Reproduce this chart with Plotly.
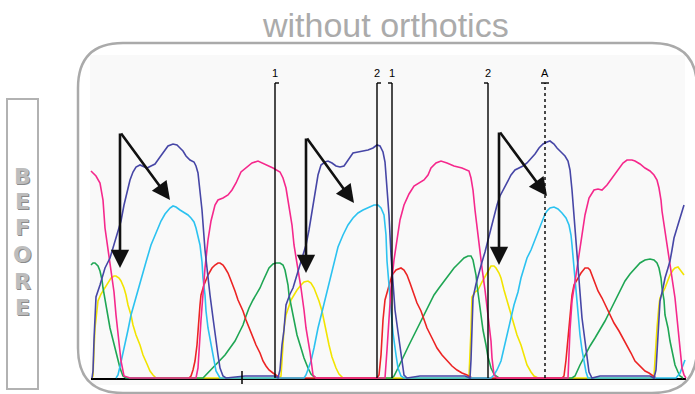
import plotly.graph_objects as go

# ---------------- data (scan position, signal amplitude) ----------------
pink_x = [91, 96, 100, 103, 105, 108, 111, 114, 116, 119, 121, 124, 130,
          196, 198, 201, 205, 208, 211, 215, 218, 223, 228, 232, 236, 241, 246, 252, 258, 265, 273, 280, 283, 286, 289, 292, 294, 298, 301, 304, 306, 310, 313, 316,
          385, 387, 389, 391, 394, 397, 400, 404, 409, 414, 419, 424, 428, 431, 436, 441, 447, 454, 462, 469, 471, 473, 475, 477, 480, 482, 485, 487, 489, 491, 492, 494, 497,
          568, 570, 572, 576, 579, 582, 585, 589, 594, 598, 602, 607, 612, 616, 619, 623, 627, 632, 635, 640, 645, 650, 654, 657, 659, 661, 662, 665, 667, 670, 672, 675, 677, 679, 680, 682, 684, 686]
pink_y = [207, 202, 195, 178, 150, 130, 110, 86, 63, 38, 17, 2, 0,
          0, 10, 58, 110, 138, 157, 173, 178, 180, 183, 188, 195, 206, 210, 215, 217, 214, 210, 206, 200, 190, 173, 153, 133, 110, 90, 68, 50, 26, 3, 0,
          0, 28, 63, 90, 118, 140, 158, 173, 184, 192, 195, 198, 203, 210, 215, 217, 215, 212, 210, 207, 200, 188, 168, 150, 128, 110, 88, 70, 53, 37, 20, 3, 0,
          0, 48, 77, 103, 123, 143, 163, 180, 188, 189, 188, 193, 200, 206, 210, 215, 218, 218, 217, 214, 210, 207, 203, 198, 190, 178, 167, 148, 133, 116, 100, 80, 60, 40, 23, 10, 3, 0]

blue_x = [92, 93, 94, 96, 100, 105, 110, 115, 118, 121, 124, 127, 130, 133, 136, 140, 143, 147, 151, 155, 160, 164, 168, 173, 177, 180, 183, 186, 190, 194, 196, 198, 200, 202, 205, 208, 210, 213, 215, 218, 220, 223, 226,
          245, 275,
          278, 280, 282, 284, 286, 290, 293, 296, 299, 303, 306, 309, 311, 314, 316, 318, 321, 325, 328, 332, 336, 340, 344, 348, 353, 358, 363, 368, 373, 377, 380, 383, 385, 387, 389, 391, 393, 395, 398, 401, 404, 407,
          420, 465,
          470, 471, 472, 473, 476, 479, 482, 485, 488, 491, 494, 497, 500, 504, 508, 511, 515, 519, 523, 527, 531, 535, 539, 543, 547, 550, 554, 557, 561, 565, 568, 570, 572, 574, 576, 578, 580, 582, 585, 587, 589, 592,
          600, 650,
          654, 656, 657, 659, 660, 663, 665, 668, 670, 672, 674, 677, 679, 682, 684]
blue_y = [0, 7, 38, 81, 93, 110, 120, 137, 146, 157, 173, 186, 198, 206, 211, 213, 212, 210, 212, 214, 221, 226, 232, 234, 233, 230, 227, 222, 218, 216, 212, 205, 188, 168, 128, 98, 83, 60, 43, 23, 10, 2, 0,
          2, 2,
          0, 8, 33, 48, 73, 84, 90, 100, 110, 122, 133, 148, 160, 178, 193, 203, 213, 216, 217, 215, 212, 211, 212, 218, 225, 226, 227, 228, 230, 233, 232, 226, 216, 193, 163, 123, 93, 68, 46, 23, 3, 0,
          2, 2,
          0, 18, 48, 80, 94, 106, 116, 126, 138, 150, 163, 173, 182, 190, 198, 203, 208, 210, 212, 215, 219, 224, 230, 234, 236, 237, 234, 230, 226, 222, 217, 208, 188, 163, 133, 108, 83, 60, 37, 18, 6, 0,
          2, 2,
          0, 8, 23, 58, 77, 90, 100, 110, 117, 128, 140, 150, 157, 166, 173]

cyan_x = [116, 118, 121, 125, 128, 131, 136, 141, 146, 151, 156, 161, 165, 170, 173, 176, 180, 185, 188, 191, 194, 196, 198, 200, 202, 203, 205, 206, 208, 211, 213, 216, 220,
          304, 306, 308, 311, 314, 318, 322, 326, 330, 334, 338, 343, 348, 353, 358, 363, 368, 374, 378, 381, 384, 386, 387, 389, 391, 393, 396, 398, 401, 404,
          491, 494, 497, 501, 504, 507, 511, 514, 518, 521, 524, 527, 531, 534, 537, 540, 542, 545, 547, 550, 554, 558, 562, 566, 569, 571, 572, 574, 576, 577, 579, 580, 582, 584, 586, 588,
          676, 680, 682, 685]
cyan_y = [0, 3, 16, 33, 48, 63, 81, 100, 116, 133, 146, 157, 164, 170, 172, 171, 168, 165, 163, 160, 156, 150, 142, 133, 116, 100, 83, 67, 50, 33, 20, 7, 0,
          0, 3, 8, 17, 30, 50, 66, 83, 100, 117, 131, 143, 153, 160, 165, 168, 170, 173, 173, 170, 163, 143, 117, 93, 67, 45, 23, 10, 2, 0,
          0, 3, 8, 17, 30, 43, 58, 73, 86, 100, 110, 120, 128, 136, 143, 152, 157, 164, 167, 170, 171, 169, 165, 160, 153, 143, 133, 110, 88, 77, 58, 43, 28, 17, 6, 0,
          0, 5, 10, 18]

green_x = [91, 93, 95, 98, 100, 102, 103, 105, 106, 108, 110, 113, 115, 118, 120, 123, 126,
           203, 205, 210, 215, 220, 225, 230, 235, 240, 243, 246, 249, 253, 256, 260, 263, 266, 269, 273, 276, 280, 283, 285, 286, 288, 289, 292, 294, 297, 301, 304, 308, 311, 313, 316,
           392, 394, 399, 404, 409, 414, 419, 424, 429, 434, 439, 444, 449, 454, 459, 464, 468, 471, 473, 474, 476, 477, 479, 481, 483, 486, 488, 491, 494, 496, 499,
           572, 575, 580, 585, 590, 595, 600, 605, 610, 615, 620, 625, 630, 635, 640, 645, 650, 654, 657, 659, 661, 662, 664, 665, 668, 670, 673, 675, 678, 680, 683]
green_y = [113, 115, 115, 112, 107, 98, 90, 78, 70, 60, 50, 38, 30, 18, 10, 2, 0,
           0, 2, 8, 13, 18, 23, 30, 37, 47, 53, 62, 70, 78, 83, 90, 97, 103, 110, 114, 115, 115, 113, 108, 103, 93, 83, 68, 57, 43, 30, 20, 10, 4, 2, 0,
           0, 2, 12, 23, 33, 43, 53, 63, 73, 83, 90, 97, 103, 110, 115, 120, 122, 122, 118, 113, 103, 93, 78, 63, 48, 33, 21, 10, 4, 2, 0,
           0, 2, 13, 23, 32, 40, 48, 57, 67, 77, 87, 97, 104, 110, 115, 118, 119, 118, 115, 110, 100, 90, 78, 63, 50, 37, 23, 13, 6, 2, 0]

red_x = [189, 191, 193, 195, 197, 198, 200, 201, 204, 208, 212, 215, 218, 220, 223, 225, 228, 230, 233, 235, 238, 241, 243, 246, 249, 253, 256, 260, 263, 266, 269, 273, 276, 280,
         377, 379, 381, 383, 385, 387, 390, 392, 396, 401, 404, 407, 410, 414, 417, 421, 424, 427, 432, 437, 442, 447, 452, 457, 462, 467, 472,
         562, 564, 566, 569, 571, 572, 574, 577, 581, 585, 588, 590, 593, 595, 598, 602, 606, 610, 614, 619, 623, 627, 631, 635, 640, 645, 649, 652, 656]
red_y = [0, 2, 8, 17, 33, 50, 73, 83, 93, 103, 110, 113, 115, 115, 113, 110, 105, 100, 93, 87, 78, 72, 67, 58, 50, 41, 33, 25, 17, 12, 8, 5, 3, 0,
         0, 3, 23, 58, 78, 85, 98, 103, 108, 110, 108, 103, 95, 83, 75, 67, 58, 50, 40, 30, 23, 17, 12, 8, 5, 3, 0,
         0, 2, 18, 50, 68, 83, 93, 98, 105, 110, 110, 108, 100, 93, 87, 80, 72, 63, 55, 47, 40, 33, 25, 17, 12, 7, 5, 3, 0]

yellow_x = [92, 93, 94, 95, 97, 98, 101, 105, 108, 111, 114, 116, 119, 121, 124, 126, 128, 131, 133, 136, 140, 143, 147, 150, 153, 156,
            280, 281, 283, 284, 286, 288, 291, 294, 297, 301, 304, 308, 311, 314, 317, 319, 322, 324, 327, 329, 332, 336, 339, 343,
            468, 469, 471, 472, 475, 478, 482, 486, 489, 491, 494, 496, 499, 501, 504, 507, 510, 514, 517, 521, 524, 527, 531, 534, 538,
            652, 654, 656, 657, 659, 660, 663, 665, 668, 670, 673, 675, 678, 680, 682, 684]
yellow_y = [0, 2, 28, 50, 68, 77, 84, 90, 95, 100, 102, 102, 100, 97, 90, 83, 73, 63, 53, 43, 33, 23, 14, 7, 3, 0,
            0, 2, 33, 50, 63, 70, 78, 83, 88, 93, 96, 97, 95, 90, 83, 77, 67, 57, 45, 33, 21, 10, 4, 0,
            0, 2, 48, 81, 86, 88, 96, 103, 109, 112, 112, 110, 105, 100, 88, 77, 66, 53, 43, 33, 23, 13, 6, 2, 0,
            0, 2, 38, 50, 73, 80, 86, 90, 98, 103, 108, 110, 111, 108, 105, 103]

# marker lines: label, position, bracket side
marker_labels = ["1", "2", "1", "2", "A"]
marker_pos = [275, 377, 392, 488, 545]
marker_side = ["r", "r", "l", "l", "both"]
marker_dash = ["solid", "solid", "solid", "solid", "dash"]

# arrows: shared tail, vertical tip, diagonal tip
arrow_tail_x = [120, 306, 499]
arrow_tail_y = [246, 241, 247]
arrow_down_y = [110, 105, 113]
arrow_diag_x = [170, 354, 547]
arrow_diag_y = [178, 175, 182]

title_text = "without orthotics"
side_letters = ["B", "E", "F", "O", "R", "E"]
side_letter_y = [202, 177, 151, 124, 97, 71]
baseline_tick_x = 242

# ---------------- figure ----------------
fig = go.Figure()

series = [
    (yellow_x, yellow_y, "#f2e400"),
    (green_x, green_y, "#1fa654"),
    (red_x, red_y, "#ec2424"),
    (cyan_x, cyan_y, "#2cc2f0"),
    (pink_x, pink_y, "#f5288c"),
    (blue_x, blue_y, "#4646a6"),
]
for xs, ys, col in series:
    fig.add_trace(go.Scatter(x=xs, y=ys, mode="lines",
                             line=dict(color=col, width=1.6),
                             hoverinfo="skip", showlegend=False))

shapes = []
# plot area background
shapes.append(dict(type="rect", xref="x", yref="y", x0=90, x1=685, y0=-7, y1=323,
                   fillcolor="#f9f9f9", line=dict(width=0), layer="below"))
# baseline
shapes.append(dict(type="line", xref="x", yref="y", x0=91, x1=686, y0=-1, y1=-1,
                   line=dict(color="black", width=2), layer="below"))
shapes.append(dict(type="line", xref="x", yref="y", x0=baseline_tick_x, x1=baseline_tick_x, y0=7, y1=-6,
                   line=dict(color="black", width=1.5)))
# rounded frame
L, R, T, B, r = 78, 697, 335, -15, 45
path = (f"M {L+r},{T} L {R-r},{T} Q {R},{T} {R},{T-r} L {R},{B+r} Q {R},{B} {R-r},{B} "
        f"L {L+r},{B} Q {L},{B} {L},{B+r} L {L},{T-r} Q {L},{T} {L+r},{T} Z")
shapes.append(dict(type="path", xref="x", yref="y", path=path,
                   line=dict(color="#aaaaaa", width=2.5), fillcolor="rgba(0,0,0,0)"))
# BEFORE box
shapes.append(dict(type="rect", xref="x", yref="y", x0=7, x1=38, y0=-11, y1=279,
                   line=dict(color="#b2b2b2", width=2), fillcolor="rgba(0,0,0,0)"))

annotations = []
top = 295
for lab, xp, side, dash in zip(marker_labels, marker_pos, marker_side, marker_dash):
    shapes.append(dict(type="line", xref="x", yref="y", x0=xp, x1=xp, y0=0, y1=top,
                       line=dict(color="black", width=1.4, dash=dash if dash == "solid" else "3px,3px")))
    if side in ("r", "both"):
        shapes.append(dict(type="line", xref="x", yref="y", x0=xp, x1=xp + 4, y0=top, y1=top,
                           line=dict(color="black", width=1.4)))
    if side in ("l", "both"):
        shapes.append(dict(type="line", xref="x", yref="y", x0=xp - 4, x1=xp, y0=top, y1=top,
                           line=dict(color="black", width=1.4)))
    annotations.append(dict(x=xp, y=top + 10, xref="x", yref="y", text=lab, showarrow=False,
                            font=dict(family="Liberation Sans", size=11, color="black")))

for tx, ty, dy, gx, gy in zip(arrow_tail_x, arrow_tail_y, arrow_down_y, arrow_diag_x, arrow_diag_y):
    for hx, hy in ((tx, dy), (gx, gy)):
        annotations.append(dict(x=hx, y=hy, ax=tx, ay=ty, xref="x", yref="y", axref="x", ayref="y",
                                text="", showarrow=True, arrowhead=2, arrowsize=1.4,
                                arrowwidth=2.6, arrowcolor="#111111", standoff=0, startstandoff=0))

annotations.append(dict(x=385, y=353, xref="x", yref="y", text=title_text, showarrow=False,
                        font=dict(family="Liberation Sans", size=34, color="#ababab")))
for ch, yy in zip(side_letters, side_letter_y):
    annotations.append(dict(x=22.5, y=yy, xref="x", yref="y", text=f"<b>{ch}</b>", showarrow=False,
                            font=dict(family="DejaVu Sans", size=22, color="#bdbdbd",
                                      shadow="1px 1px 0px #8a8a8a")))

fig.update_layout(
    width=695, height=394,
    margin=dict(l=0, r=0, t=0, b=0),
    paper_bgcolor="white", plot_bgcolor="white",
    xaxis=dict(range=[0, 695], visible=False, fixedrange=True),
    yaxis=dict(range=[-16, 378], visible=False, fixedrange=True),
    shapes=shapes, annotations=annotations,
)

fig.write_html("out.html", config={"displayModeBar": False},
               post_script="document.body.style.margin='0';document.body.style.overflow='hidden';")
